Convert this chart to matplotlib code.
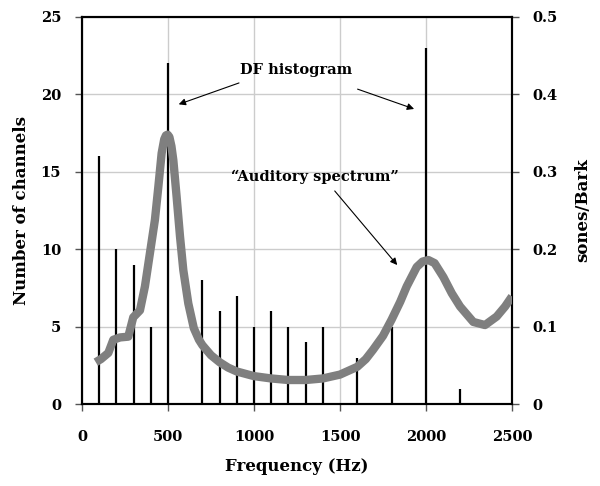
import matplotlib
matplotlib.use("Agg")
import matplotlib.pyplot as plt

# DF histogram (Number of channels)
hist_freq = [100, 200, 300, 400, 500, 700, 800, 900, 1000, 1100, 1200, 1300, 1400, 1600, 1800, 2000, 2200]
hist_count = [16, 10, 9, 5, 22, 8, 6, 7, 5, 6, 5, 4, 5, 3, 5, 23, 1]

# Auditory spectrum (sones/Bark)
spec_freq = [80, 110, 153, 182, 221, 269, 298, 337, 366, 395, 424, 444, 463, 478, 488, 498, 508,
             520, 531, 550, 570, 589, 618, 650, 680, 700, 750, 800, 850, 900, 1000, 1100, 1200,
             1300, 1400, 1500, 1600, 1650, 1692, 1750, 1800, 1850, 1888, 1946, 1980, 2014, 2050,
             2101, 2150, 2198, 2275, 2343, 2411, 2460, 2500]
spec_val = [0.054, 0.058, 0.066, 0.083, 0.086, 0.087, 0.112, 0.121, 0.152, 0.195, 0.238, 0.281, 0.324,
            0.342, 0.347, 0.348, 0.345, 0.333, 0.315, 0.268, 0.216, 0.173, 0.130, 0.098, 0.083, 0.076,
            0.063, 0.054, 0.047, 0.042, 0.036, 0.033, 0.031, 0.031, 0.033, 0.038, 0.048, 0.058, 0.070,
            0.088, 0.109, 0.132, 0.152, 0.177, 0.184, 0.186, 0.182, 0.164, 0.143, 0.126, 0.106, 0.102,
            0.113, 0.126, 0.139]

xticks = [0, 500, 1000, 1500, 2000, 2500]
yticks_left = [0, 5, 10, 15, 20, 25]
yticks_right = [0, 0.1, 0.2, 0.3, 0.4, 0.5]
yticklabels_right = ["0", "0.1", "0.2", "0.3", "0.4", "0.5"]

plt.rcParams['font.family'] = ['DejaVu Serif']
plt.rcParams['font.weight'] = 'bold'

fig = plt.figure(figsize=(6.0, 4.86), dpi=100)
ax = fig.add_axes([82/600, 1-404/486, 430/600, 387/486])
ax2 = ax.twinx()

ax.set_xlim(0, 2500)
ax.set_ylim(0, 25)
ax2.set_ylim(0, 0.5)

ax.set_xticks(xticks)
ax.set_yticks(yticks_left)
ax.grid(True, color='#cccccc', lw=1.0)
ax.set_axisbelow(True)

ax.vlines(hist_freq, 0, hist_count, colors='black', lw=1.6, zorder=2)

ax2.plot(spec_freq, spec_val, color='#7f7f7f', lw=6.0, solid_capstyle='butt', zorder=3)

ax2.set_yticks(yticks_right)
ax2.set_yticklabels(yticklabels_right)

for a in (ax, ax2):
    for s in a.spines.values():
        s.set_linewidth(1.5)
        s.set_color('black')
    a.tick_params(direction='out', length=5, width=1.0, color='#555555', labelsize=10.5)
ax.tick_params(axis='x', pad=14)
ax.tick_params(axis='y', pad=10)
ax2.tick_params(axis='y', pad=10)
for lab in ax.get_xticklabels() + ax.get_yticklabels() + ax2.get_yticklabels():
    lab.set_fontweight('bold')

ax.set_xlabel('Frequency (Hz)', fontsize=12, fontweight='bold', labelpad=10)
ax.set_ylabel('Number of channels', fontsize=12, fontweight='bold', labelpad=8)
ax2.set_ylabel('sones/Bark', fontsize=12, fontweight='bold', labelpad=12)

ax.text(1247, 21.6, 'DF histogram', ha='center', va='center', fontsize=10.5, fontweight='bold')
ax.text(1355, 14.7, '\u201cAuditory spectrum\u201d', ha='center', va='center', fontsize=10.5, fontweight='bold')

ap = dict(arrowstyle='-|>', color='black', lw=0.8, mutation_scale=10)
ax.annotate('', xy=(547, 19.3), xytext=(928, 20.8), arrowprops=ap, zorder=5)
ax.annotate('', xy=(1946, 19.0), xytext=(1587, 20.4), arrowprops=ap, zorder=5)
ax.annotate('', xy=(1843, 8.84), xytext=(1459, 13.9), arrowprops=ap, zorder=5)

fig.savefig('out.png', dpi=100)
